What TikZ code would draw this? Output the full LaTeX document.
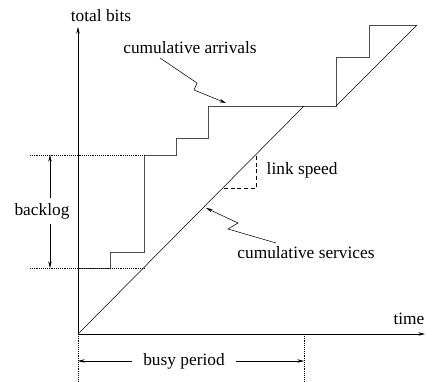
\documentclass[tikz,border=0pt]{standalone}
\usepackage{fontspec}
\setmainfont{Liberation Serif}
\usetikzlibrary{arrows.meta}

\begin{document}
\begin{tikzpicture}[x=0.75pt, y=0.75pt, >={Stealth[length=5pt,width=2.6pt]}, font=\rmfamily\fontsize{13}{15}\selectfont]
\tikzset{guide/.style={densely dotted}, stair/.style={black!70, line width=0.7pt}}
\useasboundingbox (-78,-48) rectangle (348,334);
% axes
\coordinate (o) at (0, 0);
\coordinate (ytop) at (0, 307);
\coordinate (xend) at (347, 0);
\draw [->, black](o) -- (ytop);
\draw [->, black](o) -- (xend);
\node (tbits) at (23, 318) {total bits};
\node (time) at (331, 15) {time};
% arrivals and services
\coordinate (s0) at (0, 66);
\coordinate (s1) at (66, 179);
\coordinate (s2) at (130, 228);
\coordinate (m) at (226, 228);
\coordinate (k) at (258, 228);
\coordinate (top) at (339, 309);
\draw [stair](s0) -| (32, 82) -| (s1) -| (98, 196) -| (s2) -- (k) |- (291, 277) |- (top);
\draw [black](o) -- (m);
\draw [black](k) -- (top);
% backlog
\coordinate (bt) at (-48, 179);
\coordinate (bb) at (-48, 66);
\coordinate (bs) at (66, 66);
\draw [guide](bt) -- (s1);
\draw [guide](bb) -- (bs);
\node (backlog) at (-36, 123) {backlog};
\coordinate (bat) at (-28, 179);
\coordinate (bab) at (-28, 66);
\draw [->](backlog.north -| bat) -- (bat);
\draw [->](backlog.south -| bab) -- (bab);
% link speed
\coordinate (l0) at (146, 146);
\coordinate (l1) at (178, 146);
\coordinate (l2) at (178, 178);
\draw [dashed, dash pattern=on 3pt off 2pt](l0) -- (l1) -- (l2);
\node (lspeed) [anchor=west] at (184, 164) {link speed};
% labels with bent arrows
\node (carr) at (112, 286) {cumulative arrivals};
\node (cserv) at (228, 81) {cumulative services};
\coordinate (atip) at (148, 231);
\coordinate (stip) at (128, 126);
\draw [->](82, 276) -- (119, 251) -- (116, 244) -- (atip);
\draw [->](198, 91) -- (150, 105) -- (160, 111) -- (stip);
% busy period
\coordinate (p0) at (0, -48);
\coordinate (p1) at (226, 0);
\coordinate (p2) at (226, -48);
\draw [guide](o) -- (p0);
\draw [guide](p1) -- (p2);
\node (busy) [inner sep=8pt] at (106, -27) {busy period};
\draw [->](busy.west) -- (busy.west -| o);
\draw [->](busy.east) -- (busy.east -| p1);
\end{tikzpicture}
\end{document}
